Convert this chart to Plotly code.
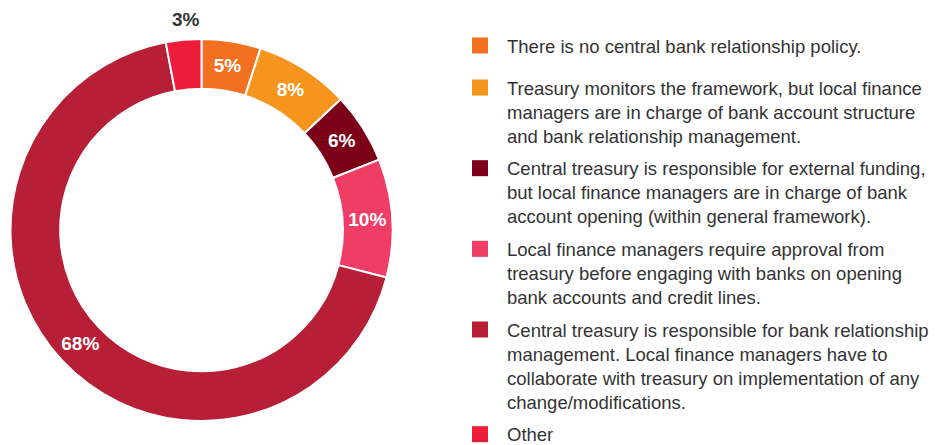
import math
import plotly.graph_objects as go

categories = [
    "There is no central bank relationship policy.",
    "Treasury monitors the framework, but local finance<br>managers are in charge of bank account structure<br>and bank relationship management.",
    "Central treasury is responsible for external funding,<br>but local finance managers are in charge of bank<br>account opening (within general framework).",
    "Local finance managers require approval from<br>treasury before engaging with banks on opening<br>bank accounts and credit lines.",
    "Central treasury is responsible for bank relationship<br>management. Local finance managers have to<br>collaborate with treasury on implementation of any<br>change/modifications.",
    "Other",
]
values = [5, 8, 6, 10, 68, 3]
colors = ["#F37021", "#F7941E", "#7D0019", "#EF3D65", "#B61F36", "#EC1C3A"]
inside_flags = [True, True, True, True, True, False]

W, H = 949, 445
cx, cy, r = 193.5, 222.0, 191.0
FONT = "Liberation Sans, Arial"

texts = [f"{v}%" if ins else "" for v, ins in zip(values, inside_flags)]

fig = go.Figure()
fig.add_trace(go.Pie(
    labels=categories,
    values=values,
    text=texts,
    textinfo="text",
    sort=False,
    direction="clockwise",
    rotation=0,
    hole=0.74,
    marker=dict(colors=colors, line=dict(color="white", width=2)),
    textposition="inside",
    insidetextorientation="horizontal",
    insidetextfont=dict(family=FONT, size=19, color="white", weight="bold"),
    showlegend=False,
    hoverinfo="label+percent",
    domain=dict(x=[(cx - r) / W, (cx + r) / W], y=[(H - cy - r) / H, (H - cy + r) / H]),
))

# outside labels, placed at the angular middle of their slice
total = sum(values)
cum = 0
for v, ins in zip(values, inside_flags):
    mid = (cum + v / 2) / total * 2 * math.pi
    cum += v
    if ins:
        continue
    R = r + 20
    px = cx + R * math.sin(mid) + 4
    py = cy - R * math.cos(mid)
    fig.add_annotation(
        x=px / W, y=1 - py / H, xref="paper", yref="paper",
        text=f"<b>{v}%</b>", showarrow=False, xanchor="center", yanchor="middle",
        font=dict(family=FONT, size=19, color="#333333"),
    )

for i, (name, col) in enumerate(zip(categories, colors)):
    fig.add_trace(go.Scatter(
        x=[None], y=[None], mode="markers", name=name,
        marker=dict(symbol="square", size=16, color=col, line=dict(width=0)),
        legendgroup=f"g{i}", showlegend=True,
        legend="legend2" if i == 0 else "legend",
    ))

legend_common = dict(
    x=445 / W, xanchor="left", yanchor="top",
    valign="top", itemwidth=44, tracegroupgap=5.5,
    font=dict(family=FONT, size=18.5, color="#333333"),
    bgcolor="rgba(0,0,0,0)",
)

fig.update_layout(
    width=W, height=H,
    margin=dict(l=0, r=0, t=0, b=0, autoexpand=False),
    paper_bgcolor="white", plot_bgcolor="white",
    xaxis=dict(visible=False), yaxis=dict(visible=False),
    legend=dict(y=1 - 61 / H, **legend_common),
    legend2=dict(y=1 - 19 / H, **legend_common),
)

fig.write_html("out.html")
